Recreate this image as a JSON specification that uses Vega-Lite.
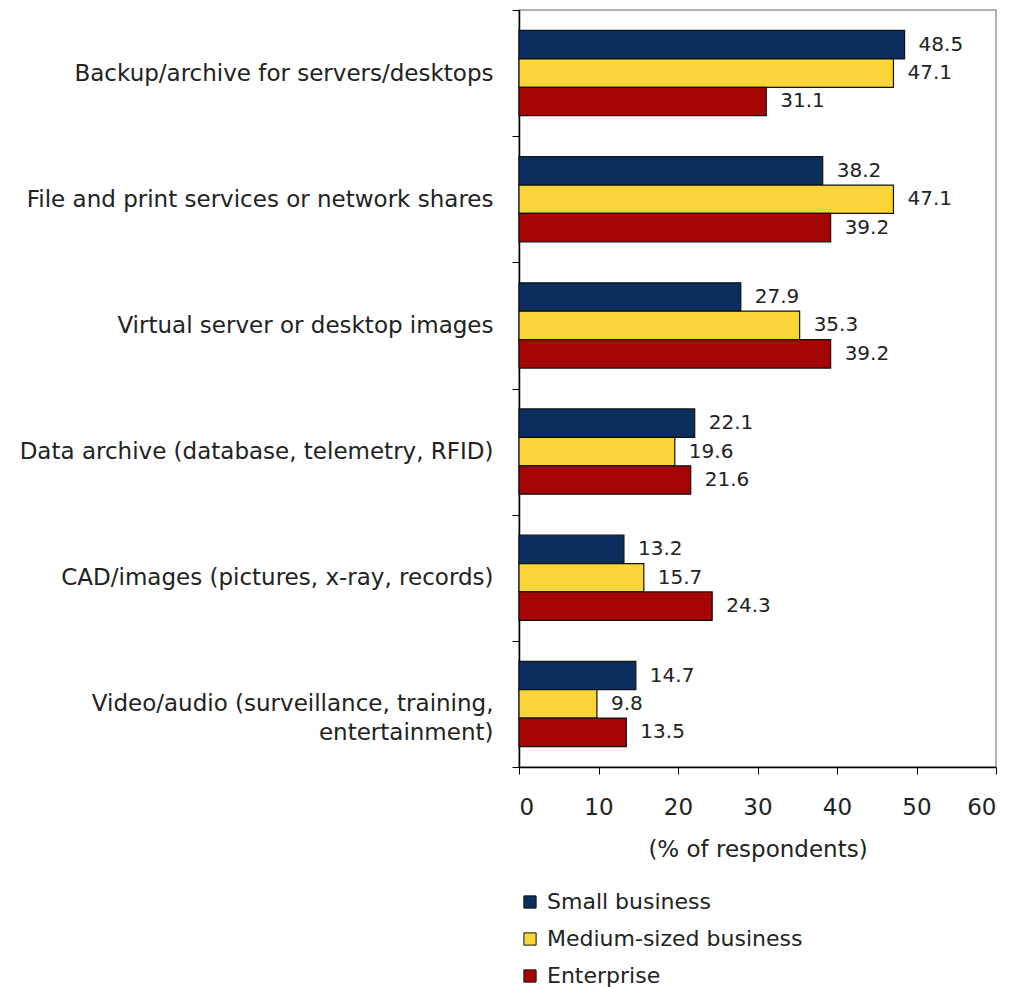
{
  "$schema": "https://vega.github.io/schema/vega-lite/v6.json",
  "width": 477,
  "height": 757,
  "autosize": {"type": "none"},
  "padding": {"left": 519, "top": 10, "right": 16, "bottom": 220},
  "background": "white",
  "config": {
    "view": {"stroke": "#999999", "strokeWidth": 1.5},
    "font": "DejaVu Sans"
  },
  "data": {
    "values": [
      {"use": "Backup/archive for servers/desktops", "segment": "Small business", "value": 48.5},
      {"use": "Backup/archive for servers/desktops", "segment": "Medium-sized business", "value": 47.1},
      {"use": "Backup/archive for servers/desktops", "segment": "Enterprise", "value": 31.1},
      {"use": "File and print services or network shares", "segment": "Small business", "value": 38.2},
      {"use": "File and print services or network shares", "segment": "Medium-sized business", "value": 47.1},
      {"use": "File and print services or network shares", "segment": "Enterprise", "value": 39.2},
      {"use": "Virtual server or desktop images", "segment": "Small business", "value": 27.9},
      {"use": "Virtual server or desktop images", "segment": "Medium-sized business", "value": 35.3},
      {"use": "Virtual server or desktop images", "segment": "Enterprise", "value": 39.2},
      {"use": "Data archive (database, telemetry, RFID)", "segment": "Small business", "value": 22.1},
      {"use": "Data archive (database, telemetry, RFID)", "segment": "Medium-sized business", "value": 19.6},
      {"use": "Data archive (database, telemetry, RFID)", "segment": "Enterprise", "value": 21.6},
      {"use": "CAD/images (pictures, x-ray, records)", "segment": "Small business", "value": 13.2},
      {"use": "CAD/images (pictures, x-ray, records)", "segment": "Medium-sized business", "value": 15.7},
      {"use": "CAD/images (pictures, x-ray, records)", "segment": "Enterprise", "value": 24.3},
      {"use": "Video/audio (surveillance, training, entertainment)", "segment": "Small business", "value": 14.7},
      {"use": "Video/audio (surveillance, training, entertainment)", "segment": "Medium-sized business", "value": 9.8},
      {"use": "Video/audio (surveillance, training, entertainment)", "segment": "Enterprise", "value": 13.5}
    ]
  },
  "encoding": {
    "y": {
      "field": "use",
      "type": "nominal",
      "sort": null,
      "scale": {"paddingInner": 0, "paddingOuter": 0},
      "axis": {
        "title": null,
        "tickBand": "extent",
        "tickSize": 7,
        "tickColor": "#000000",
        "domainColor": "#000000",
        "domainWidth": 1.5,
        "labelFontSize": 23,
        "labelColor": "#222222",
        "labelPadding": 19,
        "labelLimit": 600,
        "labelLineHeight": 29,
        "labelExpr": "datum.value == 'Video/audio (surveillance, training, entertainment)' ? ['Video/audio (surveillance, training,', 'entertainment)'] : datum.value"
      }
    },
    "yOffset": {
      "field": "segment",
      "type": "nominal",
      "sort": ["Small business", "Medium-sized business", "Enterprise"],
      "scale": {"paddingInner": 0, "paddingOuter": 0.72}
    },
    "x": {
      "field": "value",
      "type": "quantitative",
      "scale": {"domain": [0, 60], "nice": false},
      "axis": {
        "title": "(% of respondents)",
        "values": [0, 10, 20, 30, 40, 50, 60],
        "grid": false,
        "tickSize": 7,
        "tickColor": "#000000",
        "domainColor": "#000000",
        "domainWidth": 1.5,
        "labelFontSize": 23,
        "labelColor": "#222222",
        "labelPadding": 22,
        "titleFontSize": 23,
        "titleFontWeight": "normal",
        "titleColor": "#222222",
        "titlePadding": 19
      }
    }
  },
  "layer": [
    {
      "mark": {"type": "bar", "stroke": "#111111", "strokeWidth": 1.2},
      "encoding": {
        "color": {
          "field": "segment",
          "type": "nominal",
          "sort": ["Small business", "Medium-sized business", "Enterprise"],
          "scale": {
            "domain": ["Small business", "Medium-sized business", "Enterprise"],
            "range": ["#0b2e5e", "#f9d53a", "#a50505"]
          },
          "legend": {
            "title": null,
            "orient": "none",
            "legendX": 0,
            "legendY": 881,
            "direction": "vertical",
            "symbolType": "square",
            "symbolSize": 150,
            "symbolStrokeColor": "#111111",
            "symbolStrokeWidth": 1,
            "symbolOpacity": 1,
            "labelFontSize": 22,
            "labelColor": "#222222",
            "labelOffset": 6,
            "labelLimit": 400,
            "rowPadding": 15
          }
        }
      }
    },
    {
      "mark": {"type": "text", "align": "left", "dx": 14, "fontSize": 20, "color": "#222222"},
      "encoding": {
        "text": {"field": "value", "type": "quantitative", "format": ".1f"}
      }
    }
  ]
}
